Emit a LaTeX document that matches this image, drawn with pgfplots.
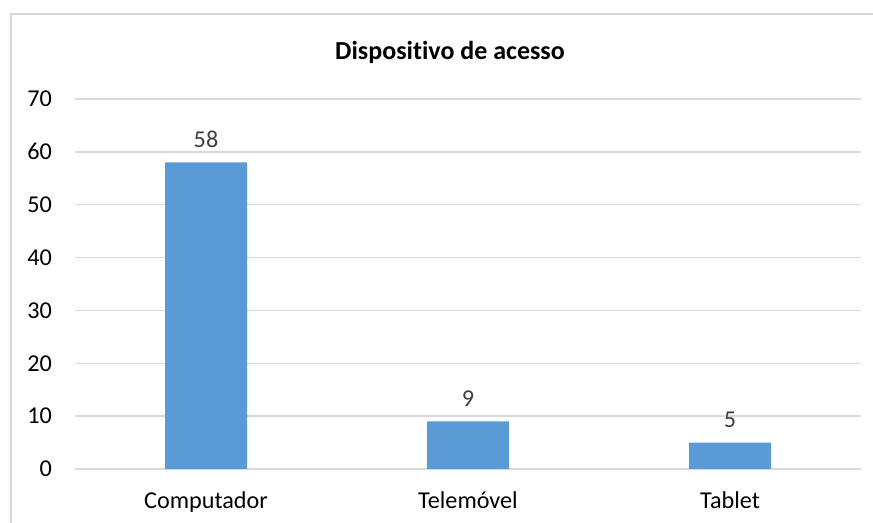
\documentclass[border=0pt]{standalone}
\usepackage{fontspec}
\setmainfont{Carlito}[Ligatures={NoCommon}]
\usepackage{pgfplots}
\pgfplotsset{compat=1.18}
\definecolor{barblue}{HTML}{5B9BD5}
\definecolor{gridgray}{HTML}{D9D9D9}
\definecolor{labgray}{HTML}{404040}
\begin{document}
\begin{tikzpicture}
\useasboundingbox (0,0) rectangle (873bp,523bp);
\fill[white] (0,0) rectangle (873bp,523bp);
\draw[gridgray, line width=1.3bp] (11bp,0) -- (11bp,509bp) -- (873bp,509bp);
\begin{axis}[
  at={(75bp,54bp)}, anchor=south west,
  scale only axis, width=786bp, height=370bp,
  xmin=-0.5, xmax=2.5, ymin=0, ymax=70,
  ytick={0,10,20,30,40,50,60,70},
  xtick={0,1,2},
  xticklabels={Computador,Telemóvel,Tablet},
  axis line style={draw=none},
  tick style={draw=none},
  ymajorgrids,
  grid style={gridgray, line width=1.3bp},
  /pgf/number format/assume math mode=true,
  font=\fontsize{24.2bp}{29bp}\selectfont,
  xticklabel style={anchor=base, inner sep=0pt, yshift=-39bp, text=black},
  yticklabel style={anchor=east, inner sep=0pt, xshift=-23bp, text=black},
  nodes near coords,
  every node near coord/.append style={text=labgray, inner sep=0pt, anchor=base, yshift=15bp},
]
\addplot[ybar, bar width=82bp, fill=barblue, draw=none] coordinates {(0,58) (1,9) (2,5)};
\end{axis}
\node[anchor=base, font=\fontsize{26bp}{31bp}\selectfont\bfseries] at (450bp,463bp) {Dispositivo de acesso};
\end{tikzpicture}
\end{document}
